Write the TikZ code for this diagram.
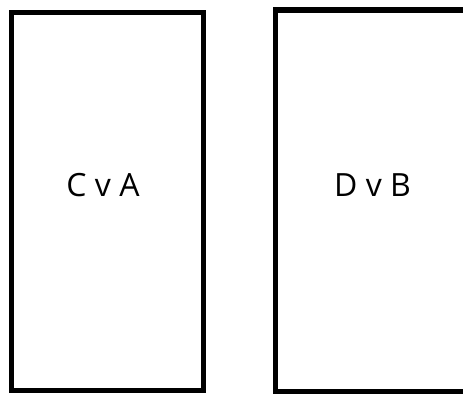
\documentclass[tikz,border=0pt]{standalone}
\usepackage{fontspec}
\setmainfont{Open Sans}
\begin{document}
\begin{tikzpicture}[x=1pt, y=-1pt, box/.style={draw, line width=5.5pt}, every node/.style={font=\fontsize{32}{38}\selectfont, inner sep=0pt}]
        \useasboundingbox (0,0) rectangle (463,394);
        \begin{scope}
        \clip (0,0) rectangle (463,394);
        \coordinate (A) at (11.5,12.5);
        \coordinate (B) at (203.7,390.5);
        \coordinate (C) at (275.7,10);
        \coordinate (D) at (472,391.5);
        \draw[box] (A) rectangle (B);
        \draw[box] (C) rectangle (D);
        \end{scope}
        \node (ca) at (103,185.5) {C v A};
        \node (db) at (372.5,185.5) {D v B};
    \end{tikzpicture}
\end{document}
